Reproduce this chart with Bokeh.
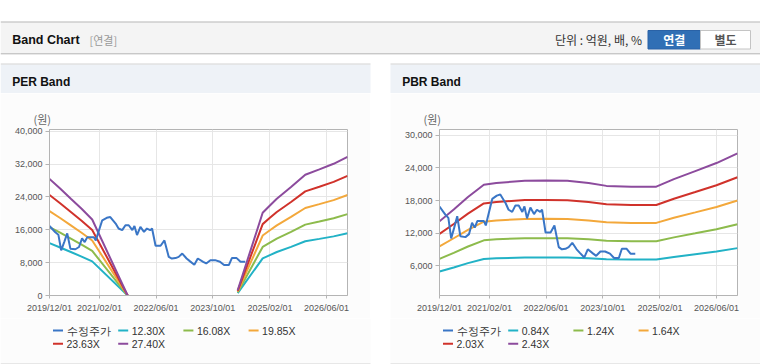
import numpy as np
import pandas as pd
from bokeh.plotting import figure
from bokeh.models import (Range1d, FixedTicker, DatetimeTickFormatter, Label,
                          NumeralTickFormatter, Spacer)
from bokeh.layouts import column, row
from bokeh.embed import file_html
from bokeh.resources import INLINE

nan = float("nan")

# ---------------- data ----------------
price_dates = ["2019-12-01", "2020-01-20", "2020-02-15", "2020-03-10", "2020-04-05", "2020-05-01",
               "2020-05-28", "2020-07-10", "2020-08-10", "2020-09-05", "2020-09-28", "2020-10-20",
               "2020-12-15", "2021-01-01", "2021-01-15", "2021-02-25", "2021-04-05", "2021-05-05",
               "2021-06-20", "2021-07-15", "2021-08-15", "2021-09-12", "2021-10-10", "2021-11-10",
               "2021-11-28", "2021-12-20", "2022-01-18", "2022-02-18", "2022-03-15", "2022-04-12",
               "2022-04-28", "2022-05-28", "2022-07-10", "2022-08-12", "2022-09-18", "2022-10-15",
               "2022-11-15", "2022-12-12", "2023-01-12", "2023-02-18", "2023-03-20", "2023-04-25",
               "2023-05-25", "2023-07-10", "2023-08-05", "2023-09-10", "2023-10-20", "2023-12-01",
               "2024-01-05", "2024-02-15", "2024-03-12", "2024-04-22", "2024-05-25", "2024-07-05"]
price_values = [16900, 15400, 14800, 11000, 13000, 15100, 11400, 11250, 11800, 13900, 13000, 14200,
                14200, 13400, 14700, 18300, 18900, 19100, 17500, 16300, 15900, 17100, 17100, 15900,
                16900, 14700, 16700, 15500, 16300, 15900, 16300, 12100, 12100, 13400, 9400, 9000,
                9100, 9400, 10200, 9000, 8300, 7500, 9000, 8200, 7800, 8600, 8600, 8200,
                7400, 7400, 9100, 9100, 8200, 8200]

per_dates = ["2019-12-01", "2020-03-01", "2020-06-01", "2020-09-01", "2020-12-01", "2021-10-01",
             "2023-01-01", "2024-05-01", "2024-12-01", "2025-02-01", "2025-04-01", "2025-08-01",
             "2025-12-01", "2026-04-01", "2026-08-01", "2026-11-28"]
per_labels = ["12.30X", "16.08X", "19.85X", "23.63X", "27.40X"]
per_1230 = [12730, 11690, 10580, 9470, 8300, 0, nan, 580, 9040, 9840, 10580, 11840, 13200, 13780, 14390, 15150]
per_1608 = [16640, 15280, 13830, 12380, 10850, 0, nan, 760, 11820, 12860, 13830, 15490, 17250, 18010, 18810, 19810]
per_1985 = [20540, 18860, 17070, 15280, 13400, 0, nan, 930, 14590, 15880, 17070, 19120, 21300, 22230, 23220, 24450]
per_2363 = [24460, 22450, 20320, 18200, 15950, 0, nan, 1110, 17370, 18900, 20320, 22760, 25350, 26470, 27650, 29110]
per_2740 = [28360, 26030, 23560, 21100, 18500, 0, nan, 1290, 20140, 21920, 23560, 26390, 29400, 30690, 32060, 33760]

pbr_dates = ["2019-12-01", "2020-04-01", "2020-08-01", "2020-12-15", "2021-04-01", "2021-12-01",
             "2022-06-01", "2022-12-01", "2023-06-01", "2023-11-01", "2024-06-01", "2025-01-01",
             "2025-06-01", "2025-12-01", "2026-06-01", "2026-11-28"]
pbr_labels = ["0.84X", "1.24X", "1.64X", "2.03X", "2.43X"]
pbr_084 = [4900, 5650, 6450, 7220, 7340, 7480, 7490, 7480, 7340, 7160, 7110, 7110, 7590, 8100, 8610, 9220]
pbr_124 = [7230, 8350, 9520, 10660, 10840, 11050, 11060, 11040, 10840, 10570, 10490, 10490, 11200, 11950, 12710, 13620]
pbr_164 = [9560, 11040, 12600, 14100, 14330, 14610, 14630, 14600, 14330, 13970, 13870, 13870, 14810, 15810, 16810, 18010]
pbr_203 = [11840, 13660, 15590, 17460, 17740, 18090, 18110, 18070, 17740, 17300, 17170, 17170, 18330, 19570, 20810, 22290]
pbr_243 = [14170, 16350, 18660, 20900, 21240, 21650, 21680, 21630, 21240, 20700, 20560, 20560, 21940, 23430, 24910, 26680]

x_tick_dates = ["2019-12-01", "2021-02-01", "2022-06-01", "2023-10-01", "2025-02-01", "2026-06-01"]
x_start, x_end = "2019-12-01", "2026-11-28"
per_y_ticks = [0, 8000, 16000, 24000, 32000, 40000]
pbr_y_ticks = [6000, 12000, 18000, 24000, 30000]
per_y_range = (0, 40400)
pbr_y_range = (480, 31100)

price_label = "수정주가"
unit_label = "(원)"
band_colors = ["#22b2c6", "#8dbb4c", "#f3a83b", "#d0322b", "#8c4b9d"]
price_color = "#3a76c6"


def ms(dates):
    return list(pd.to_datetime(dates).values.astype("datetime64[ms]").astype("int64").astype(float))


FONT = "Liberation Sans"
KFONT = "Noto Sans CJK KR"
PANEL_BG = "#fcfcfc"
FRAME_W = 298
CHART_H = 225
LEG_H = 46


def band_chart(dates, bands, yr, yticks, width):
    x0, x1 = ms([x_start, x_end])
    p = figure(width=width, height=CHART_H, x_axis_type="datetime",
               x_range=Range1d(x0, x1), y_range=Range1d(*yr),
               output_backend="svg", toolbar_location=None,
               min_border_left=49, min_border_right=width - 49 - FRAME_W,
               min_border_top=36, min_border_bottom=23,
               background_fill_color="white", border_fill_color=PANEL_BG,
               outline_line_color="#b4b4b4", outline_line_width=1)
    p.title.text = unit_label
    p.title.align = "left"
    p.title.offset = -16
    p.title.standoff = 5
    p.title.text_font = KFONT
    p.title.text_font_size = "11px"
    p.title.text_font_style = "normal"
    p.title.text_color = "#666666"
    xt = FixedTicker(ticks=ms(x_tick_dates))
    yt = FixedTicker(ticks=yticks)
    p.xaxis.ticker = xt
    p.yaxis.ticker = yt
    p.xgrid.ticker = xt
    p.ygrid.ticker = yt
    fmt = "%Y/%m/%d"
    p.xaxis.formatter = DatetimeTickFormatter(milliseconds=fmt, seconds=fmt, minsec=fmt, minutes=fmt,
                                              hourmin=fmt, hours=fmt, days=fmt, months=fmt, years=fmt)
    p.yaxis.formatter = NumeralTickFormatter(format="0,0")
    for ax in (p.xaxis, p.yaxis):
        ax.axis_line_color = "#b4b4b4"
        ax.major_tick_line_color = "#b4b4b4"
        ax.minor_tick_line_color = None
        ax.major_tick_in = 0
        ax.major_label_text_font = FONT
        ax.major_label_text_font_size = "9px"
        ax.major_label_text_color = "#555555"
    p.xaxis.major_tick_out = 3
    p.yaxis.major_tick_out = 4
    p.xaxis.major_label_standoff = 4
    p.yaxis.major_label_standoff = 3
    p.grid.grid_line_color = "#e6e6e6"

    xs = ms(dates)
    for vals, c in zip(bands, band_colors):
        p.line(xs, vals, line_color=c, line_width=2)
    p.line(ms(price_dates), price_values, line_color=price_color, line_width=2)
    return p


per = band_chart(per_dates, [per_1230, per_1608, per_1985, per_2363, per_2740],
                 per_y_range, per_y_ticks, 370)
pbr = band_chart(pbr_dates, [pbr_084, pbr_124, pbr_164, pbr_203, pbr_243],
                 pbr_y_range, pbr_y_ticks, 370)

# ---------------- legends strip (both panels) ----------------
leg = figure(width=760, height=LEG_H, x_range=Range1d(0, 760), y_range=Range1d(318 + LEG_H, 318),
             output_backend="svg", toolbar_location=None, x_axis_location=None, y_axis_location=None,
             min_border=0, outline_line_color=None, background_fill_color="white",
             border_fill_color="white")
leg.grid.visible = False
for x_left, labels in ((0, per_labels), (390, pbr_labels)):
    leg.quad(left=[x_left], right=[x_left + 370], top=[318], bottom=[363], fill_color=PANEL_BG,
             line_color=None)
    names = [price_label] + labels
    cols = [price_color] + band_colors
    for i, (n, c) in enumerate(zip(names, cols)):
        r, k = divmod(i, 4)
        gx = x_left + 52.5 + k * 65.2
        gy = 330 + r * 13.3
        leg.segment(x0=[gx], y0=[gy], x1=[gx + 10], y1=[gy], line_color=c, line_width=2)
        leg.add_layout(Label(x=gx + 13.5, y=gy, text=n, text_font=FONT, text_font_size="10.5px",
                             text_color="#333333", text_baseline="middle", text_align="left"))
    leg.segment(x0=[x_left], y0=[363.5], x1=[x_left + 370], y1=[363.5], line_color="#d0d0d0",
                line_width=1)

# ---------------- header ----------------
top = figure(width=760, height=93, x_range=Range1d(0, 760), y_range=Range1d(93, 0),
             output_backend="svg", toolbar_location=None, x_axis_location=None, y_axis_location=None,
             min_border=0, outline_line_color=None, background_fill_color="white",
             border_fill_color="white")
top.grid.visible = False
top.quad(left=[0], right=[760], top=[22], bottom=[52.5], fill_color="#f4f4f4", line_color=None)
top.segment(x0=[0], y0=[21.5], x1=[760], y1=[21.5], line_color="#b4b4b4", line_width=1)
top.segment(x0=[0], y0=[53], x1=[760], y1=[53], line_color="#c8c8c8", line_width=1)
top.segment(x0=[0], y0=[54], x1=[760], y1=[54], line_color="#e8e8e8", line_width=1)
for l, r in ((0, 370), (390, 760)):
    top.quad(left=[l], right=[r], top=[64], bottom=[93], fill_color="#eef2f7", line_color=None)
    top.segment(x0=[l], y0=[63.5], x1=[r], y1=[63.5], line_color="#d2d2d2", line_width=1)
# buttons
top.quad(left=[647.5], right=[700], top=[30], bottom=[48.5], fill_color="#306fb5", line_color="#2a62a6")
top.quad(left=[700], right=[750], top=[30], bottom=[48.5], fill_color="white", line_color="#c4c4c4")


def lab(x, y, text, font, size, color, bold=False, align="left"):
    top.add_layout(Label(x=x, y=y, text=text, text_font=font, text_font_size=size,
                         text_color=color, text_font_style="bold" if bold else "normal",
                         text_align=align, text_baseline="middle"))


lab(11.7, 39, "Band Chart", FONT, "12.5px", "#111111", bold=True)
lab(89, 39, "[연결]", KFONT, "11px", "#999999")
lab(641.5, 38.5, "단위 : 억원, 배, %", KFONT, "12px", "#333333", align="right")
lab(673.8, 38.5, "연결", KFONT, "12px", "white", bold=True, align="center")
lab(725, 38.5, "별도", KFONT, "12px", "#555555", bold=True, align="center")
lab(11.7, 81, "PER Band", FONT, "12px", "#111111", bold=True)
lab(401.7, 81, "PBR Band", FONT, "12px", "#111111", bold=True)

layout = column(
    top,
    row(per, Spacer(width=20, height=CHART_H), pbr, spacing=0),
    leg,
    spacing=0)

open("out.html", "w").write(file_html(layout, INLINE))
